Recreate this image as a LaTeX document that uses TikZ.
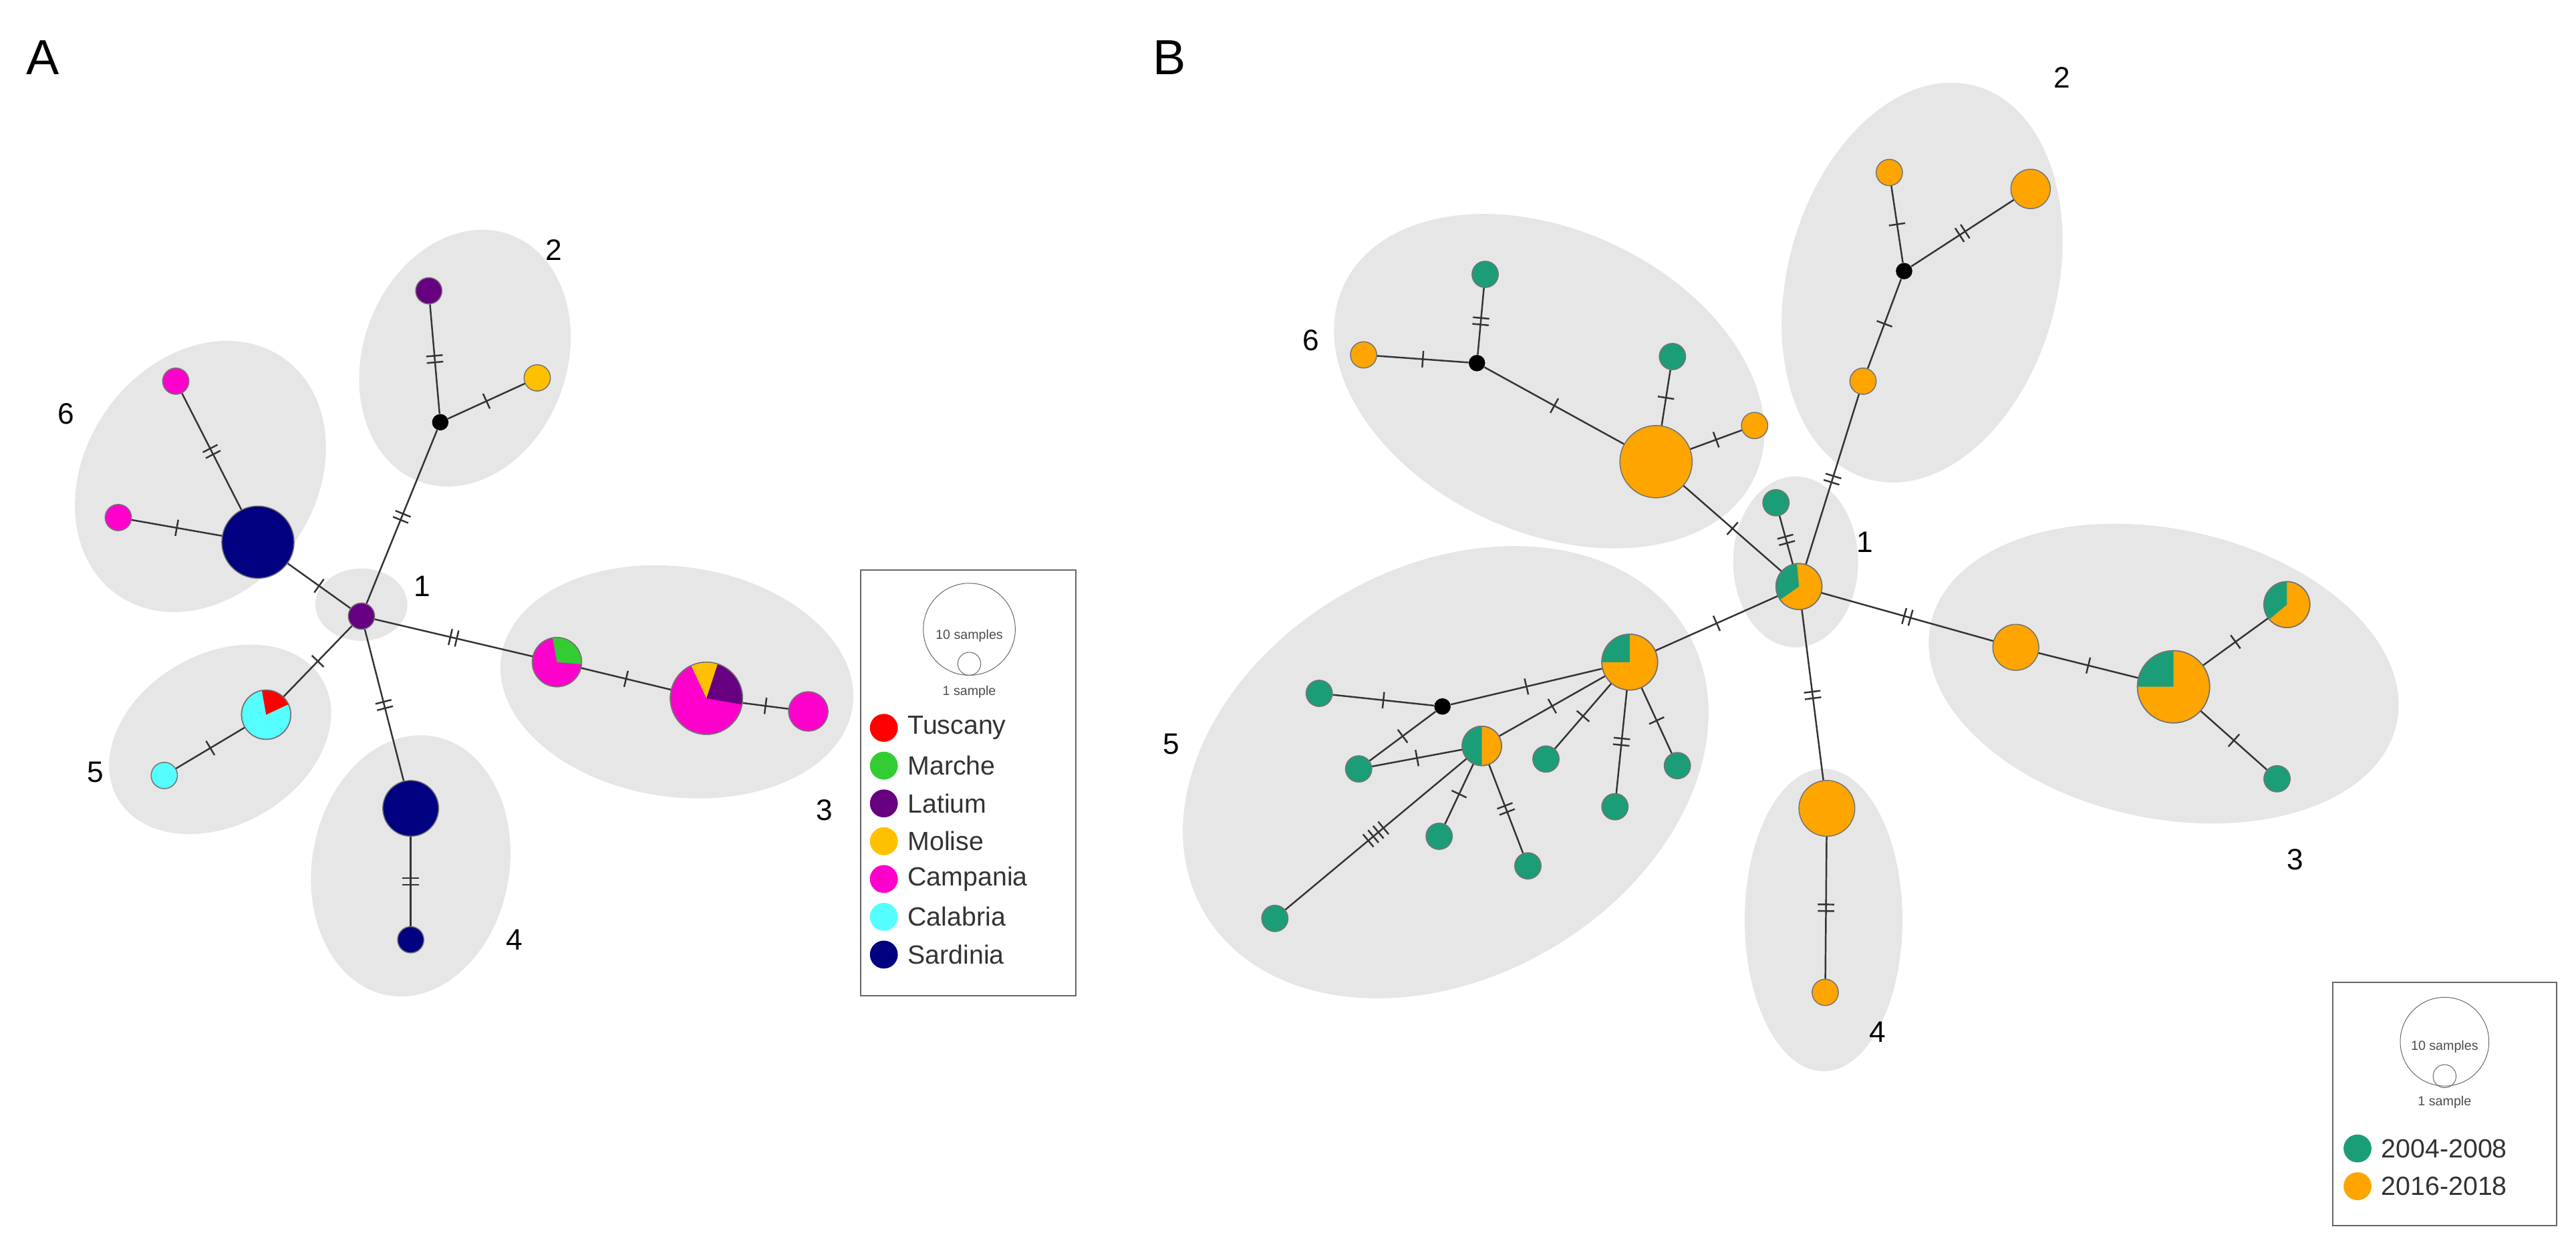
\documentclass[tikz,border=0pt]{standalone}
\usepackage{fontspec}
\setmainfont{Liberation Sans}
\usetikzlibrary{decorations.markings}
\definecolor{tus}{HTML}{FF0000}
\definecolor{mar}{HTML}{33CC33}
\definecolor{lat}{HTML}{660080}
\definecolor{mol}{HTML}{FFC000}
\definecolor{cam}{HTML}{FF00CC}
\definecolor{cal}{HTML}{55FFFF}
\definecolor{sar}{HTML}{000080}
\definecolor{gB}{HTML}{1B9E77}
\definecolor{oB}{HTML}{FFA500}
\definecolor{clu}{HTML}{E6E6E6}
\tikzset{
  hp/.style={circle,draw=black!55,line width=0.6pt,inner sep=0pt,minimum size=#1},
  blk/.style={circle,fill=black,inner sep=0pt,minimum size=10pt},
  ed/.style={draw=black!80,line width=1pt},
  tk/.style={draw=black!80,line width=1pt},
  t1/.style={postaction={decorate,decoration={markings,mark=at position #1 with {\draw[tk] (0,-5pt)--(0,5pt);}}}},
  t1/.default=0.5,
  t2/.style={postaction={decorate,decoration={markings,mark=at position #1 with {\draw[tk] (-2pt,-5pt)--(-2pt,5pt) (2pt,-5pt)--(2pt,5pt);}}}},
  t2/.default=0.5,
  t4/.style={postaction={decorate,decoration={markings,mark=at position #1 with {\draw[tk] (-6pt,-5pt)--(-6pt,5pt) (-2pt,-5pt)--(-2pt,5pt) (2pt,-5pt)--(2pt,5pt) (6pt,-5pt)--(6pt,5pt);}}}},
  t4/.default=0.5,
  cl/.style={fill=clu},
  lab/.style={font=\fontsize{18}{20}\selectfont},
  leg/.style={font=\fontsize{16}{18}\selectfont,anchor=west,text=black!80},
  tiny/.style={font=\fontsize{8}{9}\selectfont,text=black!70},
  rim/.style={draw=black!55,line width=0.6pt},
}
\newcommand{\wedgeat}[5]{\fill[#5] (#1) -- ++(#3:#2) arc (#3:#4:#2) -- cycle;}
\begin{document}
\begin{tikzpicture}[x=1pt,y=-1pt]
\useasboundingbox (0,0) rectangle (1568,760);
\fill[white] (0,0) rectangle (1568,760);
% ---------- Panel A ----------
\node[font=\fontsize{30}{32}\selectfont] (LA) at (26,35) {A};
\fill[cl] (220,368) ellipse [x radius=28,y radius=22];
\fill[cl,rotate around={70:(283,218)}] (283,218) ellipse [x radius=80,y radius=62];
\fill[cl,rotate around={55:(122,290)}] (122,290) ellipse [x radius=88,y radius=70];
\fill[cl,rotate around={30:(134,450)}] (134,450) ellipse [x radius=72,y radius=52];
\fill[cl,rotate around={80:(250,527)}] (250,527) ellipse [x radius=80,y radius=60];
\fill[cl,rotate around={-8:(412,415)}] (412,415) ellipse [x radius=108,y radius=70];

\node[hp=16pt,fill=lat] (a1) at (220,375) {};
\node[blk] (a2b) at (268,257) {};
\node[hp=16pt,fill=lat] (a2l) at (261,177) {};
\node[hp=16pt,fill=mol] (a2m) at (327,230) {};
\node[hp=16pt,fill=cam] (a6a) at (107,232) {};
\node[hp=16pt,fill=cam] (a6b) at (72,315) {};
\node[hp=44pt,fill=sar] (a6s) at (157,330) {};
\node[hp=30pt,fill=cal] (a5p) at (162,435) {};
\node[hp=16pt,fill=cal] (a5c) at (100,472) {};
\node[hp=34pt,fill=sar] (a4s) at (250,492) {};
\node[hp=16pt,fill=sar] (a4t) at (250,572) {};
\node[hp=30pt,fill=cam] (a3p) at (339,403) {};
\node[hp=44pt,fill=cam] (a3b) at (430,425) {};
\node[hp=24pt,fill=cam] (a3c) at (492,433) {};
\wedgeat{a5p.center}{15pt}{25}{100}{tus}
\wedgeat{a3p.center}{15pt}{-5}{100}{mar}
\wedgeat{a3b.center}{22pt}{-10}{72}{lat}
\wedgeat{a3b.center}{22pt}{72}{115}{mol}
\draw[rim] (a5p.center) circle[radius=15pt] (a3p.center) circle[radius=15pt] (a3b.center) circle[radius=22pt];

\draw[ed,t2] (a1) -- (a2b);
\draw[ed,t2] (a2b) -- (a2l);
\draw[ed,t1] (a2b) -- (a2m);
\draw[ed,t1] (a1) -- (a6s);
\draw[ed,t2] (a6s) -- (a6a);
\draw[ed,t1] (a6s) -- (a6b);
\draw[ed,t1] (a1) -- (a5p);
\draw[ed,t1] (a5p) -- (a5c);
\draw[ed,t2] (a1) -- (a4s);
\draw[ed,t2] (a4s) -- (a4t);
\draw[ed,t2] (a1) -- (a3p);
\draw[ed,t1] (a3p) -- (a3b);
\draw[ed,t1] (a3b) -- (a3c);

\node[lab] (la1) at (257,357) {1};
\node[lab] (la2) at (337,152) {2};
\node[lab] (la6) at (40,252) {6};
\node[lab] (la5) at (58,470) {5};
\node[lab] (la4) at (313,572) {4};
\node[lab] (la3) at (502,493) {3};

\draw[black!60,line width=0.8pt] (524,347) rectangle (655,606);
\node[circle,draw=black!60,minimum size=56pt,inner sep=0pt] (lAc) at (590,383) {};
\node[circle,draw=black!60,minimum size=14pt,inner sep=0pt] (lAs) at (590,404) {};
\node[tiny] (lA10) at (590,387) {10 samples};
\node[tiny] (lA1) at (590,421) {1 sample};
\foreach \c/\t [count=\i] in {tus/Tuscany,mar/Marche,lat/Latium,mol/Molise,cam/Campania,cal/Calabria,sar/Sardinia}{
  \node[circle,fill=\c,minimum size=17pt,inner sep=0pt] (lAd\i) at (538,443+23*\i-23) {};
  \node[leg] (lAt\i) at (549,443+23*\i-23) {\t};
}
% ---------- Panel B ----------
\node[font=\fontsize{30}{32}\selectfont] (LB) at (712,35) {B};
\fill[cl] (1093,342) ellipse [x radius=38,y radius=52];
\fill[cl,rotate around={75:(1170,172)}] (1170,172) ellipse [x radius=124,y radius=82];
\fill[cl,rotate around={-25:(943,232)}] (943,232) ellipse [x radius=138,y radius=92];
\fill[cl,rotate around={30:(880,470)}] (880,470) ellipse [x radius=170,y radius=125];
\fill[cl] (1110,560) ellipse [x radius=48,y radius=92];
\fill[cl,rotate around={-12:(1317,410)}] (1317,410) ellipse [x radius=145,y radius=88];

\node[hp=28pt,fill=oB] (b1) at (1095,357) {};
\wedgeat{b1.center}{14pt}{95}{215}{gB}
\draw[rim] (b1.center) circle[radius=14pt];
\node[hp=16pt,fill=gB] (b1g) at (1081,306) {};
\node[blk] (b2b) at (1159,165) {};
\node[hp=16pt,fill=oB] (b2t) at (1150,105) {};
\node[hp=24pt,fill=oB] (b2r) at (1236,115) {};
\node[hp=16pt,fill=oB] (b2o) at (1134,232) {};
\node[hp=44pt,fill=oB] (b6o) at (1008,281) {};
\node[blk] (b6b) at (899,221) {};
\node[hp=16pt,fill=gB] (b6g1) at (904,167) {};
\node[hp=16pt,fill=oB] (b6o1) at (830,216) {};
\node[hp=16pt,fill=gB] (b6g2) at (1018,217) {};
\node[hp=16pt,fill=oB] (b6o2) at (1068,259) {};
\node[hp=34pt,fill=oB] (b5p) at (992,403) {};
\wedgeat{b5p.center}{17pt}{90}{180}{gB}
\draw[rim] (b5p.center) circle[radius=17pt];
\node[blk] (b5b) at (878,430) {};
\node[hp=16pt,fill=gB] (b5g1) at (803,422) {};
\node[hp=16pt,fill=gB] (b5g2) at (827,468) {};
\node[hp=24pt,fill=oB] (b5h) at (902,454) {};
\wedgeat{b5h.center}{12pt}{90}{270}{gB}
\draw[rim] (b5h.center) circle[radius=12pt];
\node[hp=16pt,fill=gB] (b5g3) at (941,462) {};
\node[hp=16pt,fill=gB] (b5g4) at (983,491) {};
\node[hp=16pt,fill=gB] (b5g5) at (1021,466) {};
\node[hp=16pt,fill=gB] (b5g6) at (876,509) {};
\node[hp=16pt,fill=gB] (b5g7) at (930,527) {};
\node[hp=16pt,fill=gB] (b5g8) at (776,559) {};
\node[hp=34pt,fill=oB] (b4o) at (1112,492) {};
\node[hp=16pt,fill=oB] (b4s) at (1111,604) {};
\node[hp=28pt,fill=oB] (b3o) at (1227,394) {};
\node[hp=44pt,fill=oB] (b3b) at (1323,418) {};
\wedgeat{b3b.center}{22pt}{90}{180}{gB}
\draw[rim] (b3b.center) circle[radius=22pt];
\node[hp=28pt,fill=oB] (b3p) at (1392,368) {};
\wedgeat{b3p.center}{14pt}{90}{220}{gB}
\draw[rim] (b3p.center) circle[radius=14pt];
\node[hp=16pt,fill=gB] (b3g) at (1386,474) {};

\draw[ed,t2] (b1) -- (b1g);
\draw[ed,t2] (b1) -- (b2o);
\draw[ed,t1] (b2o) -- (b2b);
\draw[ed,t1] (b2b) -- (b2t);
\draw[ed,t2] (b2b) -- (b2r);
\draw[ed,t1] (b1) -- (b6o);
\draw[ed,t1] (b6o) -- (b6b);
\draw[ed,t2] (b6b) -- (b6g1);
\draw[ed,t1] (b6b) -- (b6o1);
\draw[ed,t1] (b6o) -- (b6g2);
\draw[ed,t1] (b6o) -- (b6o2);
\draw[ed,t1] (b1) -- (b5p);
\draw[ed,t1] (b5p) -- (b5b);
\draw[ed,t1] (b5b) -- (b5g1);
\draw[ed,t1] (b5b) -- (b5g2);
\draw[ed,t1] (b5g2) -- (b5h);
\draw[ed,t1] (b5h) -- (b5p);
\draw[ed,t1] (b5p) -- (b5g3);
\draw[ed,t2] (b5p) -- (b5g4);
\draw[ed,t1] (b5p) -- (b5g5);
\draw[ed,t1] (b5h) -- (b5g6);
\draw[ed,t2] (b5h) -- (b5g7);
\draw[ed,t4] (b5h) -- (b5g8);
\draw[ed,t2] (b1) -- (b4o);
\draw[ed,t2] (b4o) -- (b4s);
\draw[ed,t2] (b1) -- (b3o);
\draw[ed,t1] (b3o) -- (b3b);
\draw[ed,t1] (b3b) -- (b3p);
\draw[ed,t1] (b3b) -- (b3g);

\node[lab] (lb1) at (1135,330) {1};
\node[lab] (lb2) at (1255,47) {2};
\node[lab] (lb6) at (798,207) {6};
\node[lab] (lb5) at (713,453) {5};
\node[lab] (lb4) at (1143,628) {4};
\node[lab] (lb3) at (1397,523) {3};

\draw[black!60,line width=0.8pt] (1420,598) rectangle (1556,746);
\node[circle,draw=black!60,minimum size=54pt,inner sep=0pt] (lBc) at (1488,634) {};
\node[circle,draw=black!60,minimum size=14pt,inner sep=0pt] (lBs) at (1488,655) {};
\node[tiny] (lB10) at (1488,637) {10 samples};
\node[tiny] (lB1) at (1488,671) {1 sample};
\node[circle,fill=gB,minimum size=17pt,inner sep=0pt] (lBd1) at (1435,699) {};
\node[leg] (lBt1) at (1446,699) {2004-2008};
\node[circle,fill=oB,minimum size=17pt,inner sep=0pt] (lBd2) at (1435,722) {};
\node[leg] (lBt2) at (1446,722) {2016-2018};
\end{tikzpicture}
\end{document}
